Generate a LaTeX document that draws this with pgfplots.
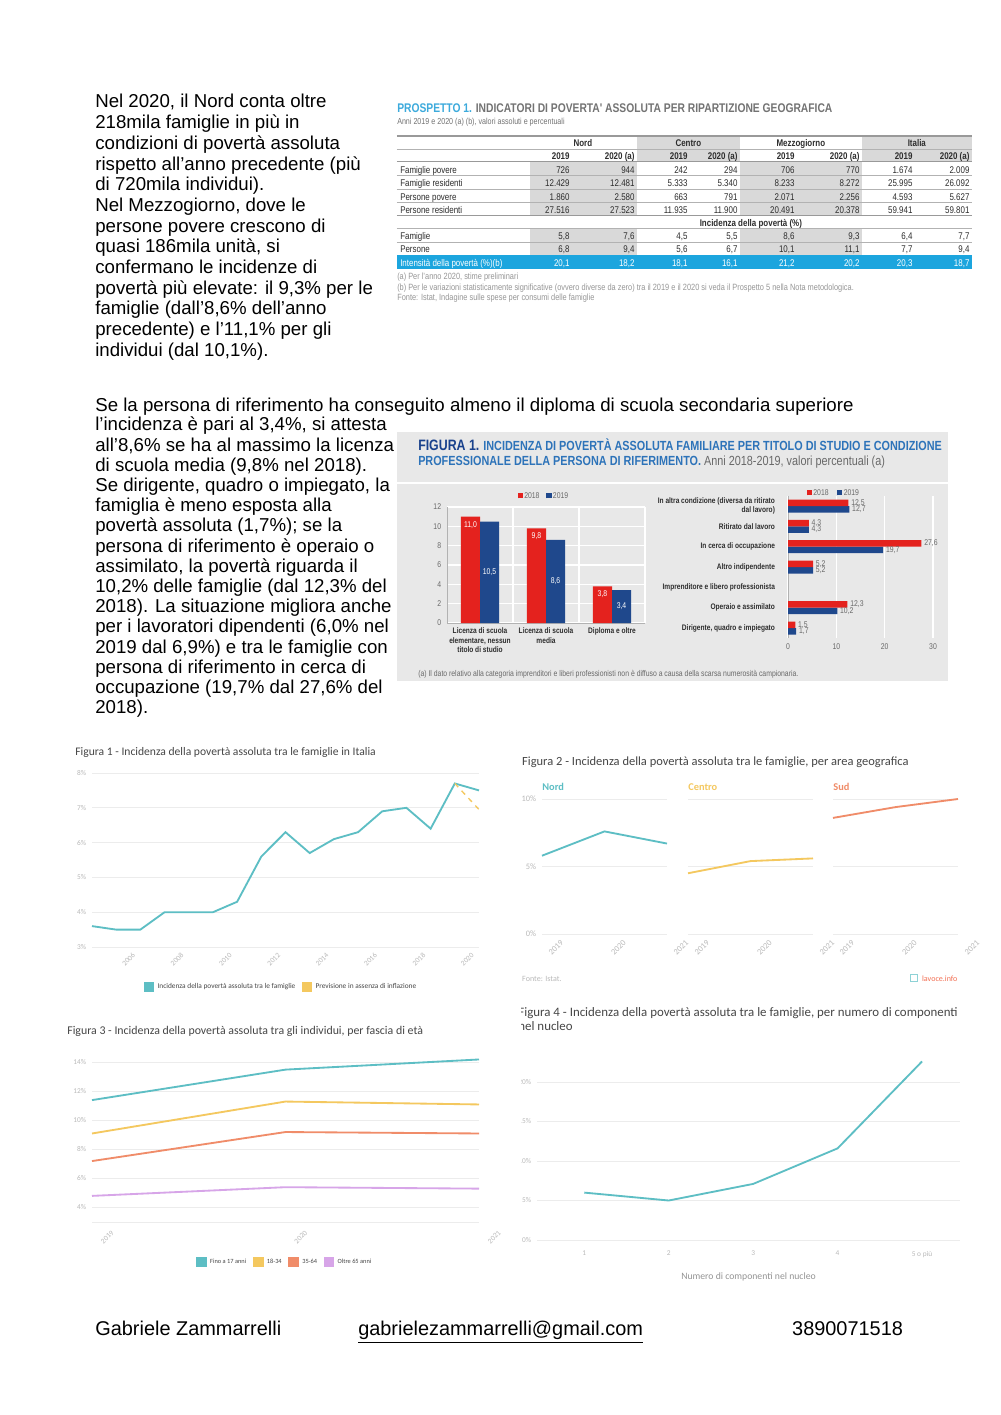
\documentclass[border=0pt]{standalone}
\usepackage{pgfplots}
\pgfplotsset{compat=1.18}
\usepackage{fontspec}
\setmainfont{Liberation Sans}
\newfontfamily\nar[FakeStretch=0.82]{Liberation Sans}
\newfontfamily\lv{Carlito}

\definecolor{lvteal}{RGB}{93,190,196}
\definecolor{lvyel}{RGB}{244,200,95}
\definecolor{lvsal}{RGB}{240,140,105}
\definecolor{lvlil}{RGB}{215,165,232}
\definecolor{lvtick}{RGB}{185,185,185}
\definecolor{lvgrid}{RGB}{236,236,236}
\definecolor{lvtitle}{RGB}{70,70,70}
\definecolor{istred}{RGB}{228,34,30}
\definecolor{istblue}{RGB}{31,72,140}
\definecolor{istbg}{RGB}{232,232,232}
\definecolor{isttext}{RGB}{45,45,45}
\definecolor{istgrey}{RGB}{105,105,105}
\definecolor{isttit}{RGB}{45,115,185}
\definecolor{istnavy}{RGB}{25,65,140}
\definecolor{tabblue}{RGB}{28,165,222}
\definecolor{tabgrey}{RGB}{217,217,217}
\definecolor{prosblue}{RGB}{60,170,220}
\definecolor{prosgrey}{RGB}{115,115,115}
\definecolor{fnote}{RGB}{150,150,150}

\pgfplotsset{
  lv/.style={
    scale only axis, clip=false,
    axis line style={draw=none},
    major tick style={draw=none},
    ymajorgrids, major grid style={lvgrid, line width=0.5pt},
    ticklabel style={font=\lv\fontsize{4.4}{5}\selectfont, text=lvtick},
    /pgf/number format/assume math mode=true,
    /pgf/number format/1000 sep={},
    yticklabel={\pgfmathprintnumber{\tick}\%},
    legend style={draw=none, fill=none, font=\lv\fontsize{4.4}{5}\selectfont, text=lvtitle,
      legend columns=-1, /tikz/every even column/.append style={column sep=2pt}},
    legend image code/.code={\fill[##1, solid] (0pt,-2.6pt) rectangle (5.2pt,2.6pt);},
  },
  rot/.style={xticklabel style={rotate=45, anchor=center, yshift=#1}},
  ist/.style={
    scale only axis, clip=false,
    ticklabel style={font=\nar\fontsize{5}{6}\selectfont, text=istgrey},
    /pgf/number format/assume math mode=true,
    tick style={draw=none},
    nodes near coords={\pgfmathprintnumber[fixed,fixed zerofill,precision=1,use comma]{\pgfplotspointmeta}},
  },
}

% table helpers
\newcommand\tv[9]{%
  \node[anchor=mid east] at (570,#1) {#2};
  \node[anchor=mid east] at (635,#1) {#3};
  \node[anchor=mid east] at (688,#1) {#4};
  \node[anchor=mid east] at (738,#1) {#5};
  \node[anchor=mid east] at (795,#1) {#6};
  \node[anchor=mid east] at (860,#1) {#7};
  \node[anchor=mid east] at (913,#1) {#8};
  \node[anchor=mid east] at (970,#1) {#9};}
\newcommand\tl[2]{\node[anchor=mid west] at (400,#1) {#2};}
\newcommand\bl[2]{\node[anchor=base west] at (95,#1) {#2};}

\begin{document}
\begin{tikzpicture}
\useasboundingbox (0,0) rectangle (21cm,-29.715cm);
\fill[white] (0,0) rectangle (21cm,-29.715cm);

\begin{scope}[x=0.021cm, y=-0.021cm, inner sep=0pt]
% ---------- body text ----------
\begin{scope}[font=\fontsize{11.15}{13}\selectfont]
\bl{108}{Nel 2020, il Nord conta oltre}
\bl{128.7}{218mila famiglie in più in}
\bl{149.4}{condizioni di povertà assoluta}
\bl{170.1}{rispetto all’anno precedente (più}
\bl{190.8}{di 720mila individui).}
\bl{211.5}{Nel Mezzogiorno, dove le}
\bl{232.2}{persone povere crescono di}
\bl{252.9}{quasi 186mila unità, si}
\bl{273.6}{confermano le incidenze di}
\bl{294.3}{povertà più elevate: il 9,3\% per le}
\bl{315}{famiglie (dall’8,6\% dell’anno}
\bl{335.7}{precedente) e l’11,1\% per gli}
\bl{356.4}{individui (dal 10,1\%).}
\bl{412}{Se la persona di riferimento ha conseguito almeno il diploma di scuola secondaria superiore}
\bl{431}{l’incidenza è pari al 3,4\%, si attesta}
\bl{451.2}{all’8,6\% se ha al massimo la licenza}
\bl{471.4}{di scuola media (9,8\% nel 2018).}
\bl{491.6}{Se dirigente, quadro o impiegato, la}
\bl{511.8}{famiglia è meno esposta alla}
\bl{532}{povertà assoluta (1,7\%); se la}
\bl{552.2}{persona di riferimento è operaio o}
\bl{572.4}{assimilato, la povertà riguarda il}
\bl{592.6}{10,2\% delle famiglie (dal 12,3\% del}
\bl{612.8}{2018). La situazione migliora anche}
\bl{633}{per i lavoratori dipendenti (6,0\% nel}
\bl{653.2}{2019 dal 6,9\%) e tra le famiglie con}
\bl{673.4}{persona di riferimento in cerca di}
\bl{693.6}{occupazione (19,7\% dal 27,6\% del}
\bl{713.8}{2018).}
\end{scope}
\begin{scope}[font=\fontsize{11.9}{13}\selectfont]
\node[anchor=base west] at (95,1336) {Gabriele Zammarrelli};
\node[anchor=base west] at (358,1336) {\underline{gabrielezammarrelli@gmail.com}};
\node[anchor=base west] at (792,1336) {3890071518};
\end{scope}

% ---------- PROSPETTO 1 ----------
\node[anchor=base west, font=\nar\bfseries\fontsize{7.5}{8}\selectfont] at (397,112.5)
  {\textcolor{prosblue}{PROSPETTO 1.} \textcolor{prosgrey}{INDICATORI DI POVERTA' ASSOLUTA PER RIPARTIZIONE GEOGRAFICA}};
\node[anchor=base west, font=\nar\fontsize{5.2}{6}\selectfont, text=prosgrey] at (397,124.5)
  {Anni 2019 e 2020 (a) (b), valori assoluti e percentuali};
\fill[tabgrey] (637,136) rectangle (740,162);
\fill[tabgrey] (862,136) rectangle (972,162);
\fill[tabgrey] (530,162) rectangle (637,216);
\fill[tabgrey] (740,162) rectangle (862,216);
\fill[tabgrey] (530,228) rectangle (637,255);
\fill[tabgrey] (740,228) rectangle (862,255);
\fill[tabblue] (397,255) rectangle (972,269);
\draw[gray!80, line width=0.7pt] (397,136) -- (972,136);
\foreach \yy in {149,175.5,189,202.5,228,242}
  \draw[gray!60, line width=0.35pt] (397,\yy) -- (972,\yy);
\draw[gray!80, line width=0.6pt] (397,162) -- (972,162);
\draw[gray!80, line width=0.6pt] (397,216) -- (972,216);
\begin{scope}[font=\nar\fontsize{5.8}{6.5}\selectfont, text=isttext]
\begin{scope}[font=\nar\bfseries\fontsize{5.8}{6.5}\selectfont]
\node[anchor=mid] at (583,142.5) {Nord};
\node[anchor=mid] at (688.5,142.5) {Centro};
\node[anchor=mid] at (801,142.5) {Mezzogiorno};
\node[anchor=mid] at (917,142.5) {Italia};
\tv{155.5}{2019}{2020 (a)}{2019}{2020 (a)}{2019}{2020 (a)}{2019}{2020 (a)}
\node[anchor=mid] at (751,222) {Incidenza della povertà (\%)};
\end{scope}
\tl{168.7}{Famiglie povere}
\tv{168.7}{726}{944}{242}{294}{706}{770}{1.674}{2.009}
\tl{182.2}{Famiglie residenti}
\tv{182.2}{12.429}{12.481}{5.333}{5.340}{8.233}{8.272}{25.995}{26.092}
\tl{195.7}{Persone povere}
\tv{195.7}{1.860}{2.580}{663}{791}{2.071}{2.256}{4.593}{5.627}
\tl{209.2}{Persone residenti}
\tv{209.2}{27.516}{27.523}{11.935}{11.900}{20.491}{20.378}{59.941}{59.801}
\tl{235}{Famiglie}
\tv{235}{5,8}{7,6}{4,5}{5,5}{8,6}{9,3}{6,4}{7,7}
\tl{248.5}{Persone}
\tv{248.5}{6,8}{9,4}{5,6}{6,7}{10,1}{11,1}{7,7}{9,4}
\end{scope}
\begin{scope}[font=\nar\fontsize{5.8}{6.5}\selectfont, text=white]
\tl{262}{Intensità della povertà (\%)(b)}
\tv{262}{20,1}{18,2}{18,1}{16,1}{21,2}{20,2}{20,3}{18,7}
\end{scope}
\begin{scope}[font=\nar\fontsize{5.4}{6}\selectfont, text=fnote]
\node[anchor=base west] at (397,279.5) {(a)};
\node[anchor=base west] at (408,279.5) {Per l’anno 2020, stime preliminari};
\node[anchor=base west] at (397,290.5) {(b)};
\node[anchor=base west] at (408,290.5) {Per le variazioni statisticamente significative (ovvero diverse da zero) tra il 2019 e il 2020 si veda il Prospetto 5 nella Nota metodologica.};
\node[anchor=base west] at (397,301) {Fonte: Istat, Indagine sulle spese per consumi delle famiglie};
\end{scope}

% ---------- ISTAT FIGURA 1 box ----------
\fill[istbg] (397,432) rectangle (948,681);
\draw[white, line width=1.2pt] (397,483) -- (948,483);
\node[anchor=base west, font=\nar\bfseries\fontsize{7.9}{8}\selectfont] at (418,450.5)
  {{\fontsize{9}{9}\selectfont\textcolor{istnavy}{FIGURA 1.}} \textcolor{isttit}{INCIDENZA DI POVERTÀ ASSOLUTA FAMILIARE PER TITOLO DI STUDIO E CONDIZIONE}};
\node[anchor=base west, font=\nar\bfseries\fontsize{7.9}{8}\selectfont] at (418,465.5)
  {\textcolor{isttit}{PROFESSIONALE DELLA PERSONA DI RIFERIMENTO.} {\mdseries\textcolor{istgrey}{Anni 2018-2019, valori percentuali (a)}}};
\node[anchor=mid, font=\nar\fontsize{5}{6}\selectfont, text=istgrey] at (543,494)
  {\textcolor{istred}{\rule{3.2pt}{3.2pt}}\,2018\hspace{4pt}\textcolor{istblue}{\rule{3.2pt}{3.2pt}}\,2019};
\node[anchor=mid, font=\nar\fontsize{5}{6}\selectfont, text=istgrey] at (833,491)
  {\textcolor{istred}{\rule{3.2pt}{3.2pt}}\,2018\hspace{5pt}\textcolor{istblue}{\rule{3.2pt}{3.2pt}}\,2019};
\node[anchor=base west, font=\nar\fontsize{5}{5}\selectfont, text=istgrey] at (418,677)
  {(a) Il dato relativo alla categoria imprenditori e liberi professionisti non è diffuso a causa della scarsa numerosità campionaria.};

% ---------- lavoce titles ----------
\node[anchor=base west, font=\lv\fontsize{6.93}{7}\selectfont, text=lvtitle] at (75,755.5) {Figura 1 - Incidenza della povertà assoluta tra le famiglie in Italia};
\node[anchor=base west, font=\lv\fontsize{7.45}{8}\selectfont, text=lvtitle] at (522,765.5) {Figura 2 - Incidenza della povertà assoluta tra le famiglie, per area geografica};
\node[anchor=base west, font=\lv\fontsize{7.08}{8}\selectfont, text=lvtitle] at (67,1034.5) {Figura 3 - Incidenza della povertà assoluta tra gli individui, per fascia di età};
\node[anchor=base west, font=\lv\fontsize{4.8}{5}\selectfont, text=lvtick] at (522,982) {Fonte: Istat.};
\draw[lvteal!70, line width=0.6pt] (911,975) rectangle (918,982);
\node[anchor=base west, font=\lv\fontsize{4.8}{5}\selectfont, text=lvsal!80!red] at (922,982) {lavoce.info};
\end{scope}

% ---------- ISTAT left bar chart ----------
\begin{axis}[ist, at={(9.387cm,-13.083cm)}, anchor=south west, width=4.158cm, height=2.436cm,
  xmin=-0.5, xmax=2.5, ymin=0, ymax=12, ybar=0pt, bar width=0.4cm,
  axis x line*=bottom, axis y line*=left, axis line style={gray!60, line width=0.4pt},
  ytick={0,2,...,12}, xtick={0,1,2}, ymajorgrids,
  major grid style={white, line width=0.7pt},
  xticklabels={{Licenza di scuola\\elementare, nessun\\titolo di studio},{Licenza di scuola\\media},{Diploma e oltre}},
  xticklabel style={align=center, font=\nar\bfseries\fontsize{4.8}{5.7}\selectfont, text=isttext, yshift=5pt},
  extra x ticks={0.5,1.5,2.5}, extra x tick labels={}, extra x tick style={grid=major, major grid style={white, line width=0.8pt}},
  nodes near coords style={font=\nar\fontsize{5}{6}\selectfont, text=white, inner sep=1.5pt},
]
\addplot[fill=istred, draw=none, every node near coord/.append style={anchor=north, yshift=-1pt}]
  coordinates {(0,11.0) (1,9.8) (2,3.8)};
\addplot[fill=istblue, draw=none, visualization depends on={y \as \ry},
  every node near coord/.append style={anchor=center, yshift=-\ry*2.888pt}]
  coordinates {(0,10.5) (1,8.6) (2,3.4)};
\end{axis}

% ---------- ISTAT right hbar chart ----------
\begin{axis}[ist, at={(16.548cm,-13.402cm)}, anchor=south west, width=3.045cm, height=2.989cm,
  xmin=0, xmax=30, ymin=-0.5, ymax=6.5, y dir=reverse, xbar=0pt, bar width=0.1365cm,
  axis y line*=left, axis x line*=bottom, x axis line style={draw=none}, y axis line style={gray!60, line width=0.4pt},
  xtick={0,10,20,30}, ytick={0,...,6}, xmajorgrids, major grid style={white, line width=0.8pt},
  yticklabels={{In altra condizione (diversa da ritirato\\dal lavoro)},{Ritirato dal lavoro},{In cerca di occupazione},{Altro indipendente},{Imprenditore e libero professionista},{Operaio e assimilato},{Dirigente, quadro e impiegato}},
  yticklabel style={align=right, font=\nar\bfseries\fontsize{4.8}{5.7}\selectfont, text=isttext},
  point meta=x,
  nodes near coords style={anchor=west, font=\nar\fontsize{5}{6}\selectfont, text=istgrey, inner sep=1.5pt},
]
\addplot[fill=istblue, draw=none] coordinates {(12.7,0) (4.3,1) (19.7,2) (5.2,3) (10.2,5) (1.7,6)};
\addplot[fill=istred, draw=none] coordinates {(12.5,0) (4.3,1) (27.6,2) (5.2,3) (12.3,5) (1.5,6)};
\end{axis}

% ---------- lavoce Figura 1 ----------
\begin{axis}[lv, rot=-10.5pt, at={(1.932cm,-19.887cm)}, anchor=south west, width=8.127cm, height=3.654cm,
  xmin=2005, xmax=2021, ymin=3, ymax=8, ytick={3,...,8}, xtick={2006,2008,...,2020},
  legend style={at={(0.49,-0.23)}, anchor=center}]
\addplot[lvteal, line width=1.1pt] coordinates {(2005,3.6) (2006,3.5) (2007,3.5) (2008,4.0) (2009,4.0)
  (2010,4.0) (2011,4.3) (2012,5.6) (2013,6.3) (2014,5.7) (2015,6.1) (2016,6.3) (2017,6.9)
  (2018,7.0) (2019,6.4) (2020,7.7) (2021,7.5)};
\addplot[lvyel, dashed, line width=0.8pt] coordinates {(2020,7.7) (2021,6.95)};
\legend{Incidenza della povertà assoluta tra le famiglie, Previsione in assenza di inflazione}
\end{axis}

% ---------- lavoce Figura 2 ----------
\pgfplotsset{fig2/.style={lv, rot=-11.7pt, anchor=south west, width=2.625cm, height=2.835cm,
  xmin=2019, xmax=2021, ymin=0, ymax=10, ytick={0,5,10}, xtick={2019,2020,2021},
  ticklabel style={font=\lv\fontsize{5}{5}\selectfont},
  title style={at={(0,1)}, anchor=south west, inner sep=0pt, yshift=-1pt, font=\lv\bfseries\fontsize{6.2}{6}\selectfont}}}
\begin{axis}[fig2, at={(11.382cm,-19.614cm)}, title={Nord}, title style={text=lvteal}]
\addplot[lvteal, line width=1.1pt] coordinates {(2019,5.8) (2020,7.6) (2021,6.7)};
\end{axis}
\begin{axis}[fig2, at={(14.448cm,-19.614cm)}, yticklabels={}, title={Centro}, title style={text=lvyel}]
\addplot[lvyel, line width=1.1pt] coordinates {(2019,4.5) (2020,5.4) (2021,5.6)};
\end{axis}
\begin{axis}[fig2, at={(17.493cm,-19.614cm)}, yticklabels={}, title={Sud}, title style={text=lvsal}]
\addplot[lvsal, line width=1.1pt] coordinates {(2019,8.6) (2020,9.4) (2021,10.0)};
\end{axis}

% ---------- lavoce Figura 3 ----------
\begin{axis}[lv, rot=-12.9pt, at={(1.932cm,-25.662cm)}, anchor=south west, width=8.127cm, height=3.444cm,
  xmin=2019, xmax=2021, ymin=3, ymax=14.3, ytick={4,6,...,14}, xtick={2019,2020,2021},
  extra y ticks={3}, extra y tick labels={},
  legend style={at={(0.5,-0.245)}, anchor=center, font=\lv\fontsize{3.8}{5}\selectfont}]
\addplot[lvteal, line width=1.1pt] coordinates {(2019,11.4) (2020,13.5) (2021,14.2)};
\addplot[lvyel, line width=1.1pt] coordinates {(2019,9.1) (2020,11.3) (2021,11.1)};
\addplot[lvsal, line width=1.1pt] coordinates {(2019,7.2) (2020,9.2) (2021,9.1)};
\addplot[lvlil, line width=1.1pt] coordinates {(2019,4.8) (2020,5.4) (2021,5.3)};
\legend{Fino a 17 anni, 18-34, 35-64, Oltre 65 anni}
\end{axis}

% ---------- lavoce Figura 4 ----------
\begin{scope}
\clip (10.95cm,-20.9cm) rectangle (21cm,-27.2cm);
\node[anchor=base west, inner sep=0pt, font=\lv\fontsize{7.7}{8}\selectfont, text=lvtitle] at (10.88cm,-21.34cm)
  {Figura 4 - Incidenza della povertà assoluta tra le famiglie, per numero di componenti};
\node[anchor=base west, inner sep=0pt, font=\lv\fontsize{7.7}{8}\selectfont, text=lvtitle] at (10.88cm,-21.63cm)
  {nel nucleo};
\begin{axis}[lv, at={(11.277cm,-26.04cm)}, anchor=south west, width=8.883cm, height=3.816cm,
  xmin=0.44, xmax=5.45, ymin=0, ymax=23, ytick={0,5,...,20}, xtick={1,...,5},
  xticklabels={1,2,3,4,5 o più},
  xticklabel style={yshift=-3pt},
  xlabel={Numero di componenti nel nucleo},
  xlabel style={font=\lv\fontsize{5.8}{6}\selectfont, text=lvtick!80!black, yshift=-2.5pt}]
\addplot[lvteal, line width=1.1pt] coordinates {(1,6.0) (2,5.0) (3,7.1) (4,11.6) (5,22.6)};
\end{axis}
\end{scope}

\end{tikzpicture}
\end{document}
